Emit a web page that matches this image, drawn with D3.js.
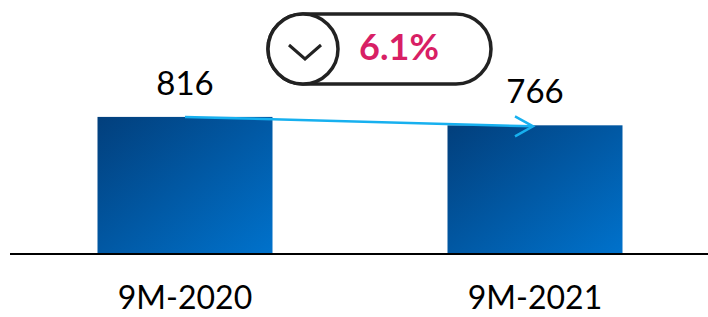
<!DOCTYPE html>
<html>
<head>
<meta charset="utf-8">
<script src="https://cdn.jsdelivr.net/npm/d3@7"></script>
<style>
  body { margin: 0; background: #fff; }
  text { font-family: Lato, "Open Sans", sans-serif; }
</style>
</head>
<body>
<div id="chart"></div>
<script>
// data
const categories = ["9M-2020", "9M-2021"];
const values = [816, 766];
const changeLabel = "6.1%";

const width = 708, height = 317;

const svg = d3.select("#chart")
  .append("svg")
    .attr("width", width)
    .attr("height", height);

// gradient for bars
const defs = svg.append("defs");
const grad = defs.append("linearGradient")
  .attr("id", "barGrad")
  .attr("x1", "0%").attr("y1", "0%")
  .attr("x2", "100%").attr("y2", "100%");
grad.append("stop").attr("offset", "0%").attr("stop-color", "#023f7c");
grad.append("stop").attr("offset", "100%").attr("stop-color", "#0072cc");

// scales
const x = d3.scaleBand()
  .domain(categories)
  .range([10, 710])
  .paddingInner(0.5)
  .paddingOuter(0.25);

const y = d3.scaleLinear()
  .domain([0, 1000])
  .range([254, 86]);

// bars
svg.append("g")
  .selectAll("rect")
  .data(values)
  .join("rect")
    .attr("x", (d, i) => x(categories[i]))
    .attr("y", d => y(d))
    .attr("width", x.bandwidth())
    .attr("height", d => y(0) - y(d))
    .attr("fill", "url(#barGrad)");

// value labels
svg.append("g")
  .selectAll("text")
  .data(values)
  .join("text")
    .attr("x", (d, i) => x(categories[i]) + x.bandwidth() / 2)
    .attr("y", d => y(d) - 22)
    .attr("text-anchor", "middle")
    .attr("font-size", 33)
    .attr("fill", "#000")
    .text(d => d);

// baseline
svg.append("line")
  .attr("x1", 10).attr("x2", width)
  .attr("y1", y(0)).attr("y2", y(0))
  .attr("stroke", "#000")
  .attr("stroke-width", 2);

// category labels
svg.append("g")
  .selectAll("text")
  .data(categories)
  .join("text")
    .attr("x", d => x(d) + x.bandwidth() / 2)
    .attr("y", 309)
    .attr("text-anchor", "middle")
    .attr("font-size", 32)
    .attr("fill", "#000")
    .text(d => d);

// trend arrow
const x0 = x(categories[0]) + x.bandwidth() / 2;
const x1 = x(categories[1]) + 0.5 * x.bandwidth() - 2;
const y0 = y(values[0]);
const y1 = y(values[1]) + 1;
svg.append("line")
  .attr("x1", x0).attr("y1", y0)
  .attr("x2", x1).attr("y2", y1)
  .attr("stroke", "#17b0ef")
  .attr("stroke-width", 2.5);
svg.append("path")
  .attr("d", `M${x1 - 18},${y1 - 10} L${x1},${y1} L${x1 - 18},${y1 + 10}`)
  .attr("fill", "none")
  .attr("stroke", "#17b0ef")
  .attr("stroke-width", 2.5);

// change pill
const pill = svg.append("g");
pill.append("rect")
  .attr("x", 268).attr("y", 14)
  .attr("width", 223).attr("height", 70)
  .attr("rx", 35).attr("ry", 35)
  .attr("fill", "#fff")
  .attr("stroke", "#222")
  .attr("stroke-width", 3.5);
pill.append("circle")
  .attr("cx", 303).attr("cy", 49)
  .attr("r", 35)
  .attr("fill", "#fff")
  .attr("stroke", "#222")
  .attr("stroke-width", 3.5);
pill.append("path")
  .attr("d", "M289,45 L305,59 L321,45")
  .attr("fill", "none")
  .attr("stroke", "#222")
  .attr("stroke-width", 3);
pill.append("text")
  .attr("x", 399).attr("y", 60)
  .attr("text-anchor", "middle")
  .attr("font-size", 36)
  .attr("font-weight", "bold")
  .attr("fill", "#d81f65")
  .text(changeLabel);
</script>
</body>
</html>
